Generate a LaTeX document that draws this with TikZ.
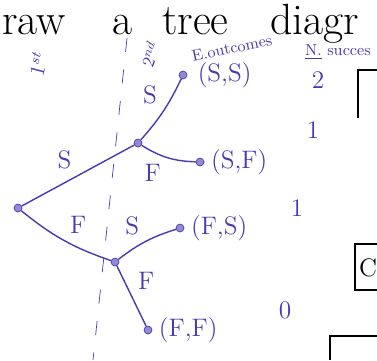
\documentclass[tikz,border=0pt]{standalone}
\usepackage{tikz}
\usetikzlibrary{quotes}
\definecolor{ink}{RGB}{72,58,178}
\begin{document}
\begin{tikzpicture}[
    x=0.02cm, y=-0.02cm,
    V/.style = {circle, draw=ink, fill=ink!60, inner sep = 1.6pt},
    L/.style = {text=ink, font=\Large},
    H/.style = {anchor=base west, font=\Huge, inner sep=1pt},
    every edge quotes/.style = {auto, text=ink, font=\Large}
    ]
    \useasboundingbox (0,0) rectangle (377,360);
    % heading
    \node[H] (raw) at (0,34) {raw};
    \node[H] (a) at (110,34) {a};
    \node[H] (tree) at (160,34) {tree};
    \node[H] (diagr) at (268,34) {diagr};
    \node[rotate=75, text=ink, font=\large, inner sep=1pt] (first) at (38,64) {1$^{st}$};
    \node[rotate=70, text=ink, inner sep=1pt] (second) at (150,54) {2$^{nd}$};
    \node[rotate=12, text=ink, font=\small, inner sep=1pt] (outc) at (232,48) {E.outcomes};
    \node[text=ink, font=\small, inner sep=1pt] (succ) at (338,52) {\underline{N.} succes};
    % dashed divider
    \draw[ink, dashed, dash pattern=on 8pt off 10pt] (127,38) -- (93,360);
    \begin{scope}[nodes=V]
        \node (root) at (18,208) {};
        \node (s) at (138,143) {};
        \node (f) at (115,262) {};
        \node[label={[L, label distance=2pt]right:{(S,S)}}] (ss) at (183,75) {};
        \node[label={[L]right:{(S,F)}}] (sf) at (200,162) {};
        \node[label={[L]right:{(F,S)}}] (fs) at (180,228) {};
        \node[label={[L]right:{(F,F)}}] (ff) at (148,330) {};
    \end{scope}
    \begin{scope}[thick, ink]
        \draw (root) edge["S"] (s);
        \draw (root) edge["F", bend right=10] (f);
        \draw (s) edge["S", bend right=8] (ss);
        \draw (s) edge["F"', bend right=15] (sf);
        \draw (f) edge["S", bend left=10] (fs);
        \draw (f) edge["F"] (ff);
    \end{scope}
    % number of successes
    \node[L] (n1) at (318,80) {2};
    \node[L] (n2) at (313,130) {1};
    \node[L] (n3) at (297,208) {1};
    \node[L] (n4) at (285,310) {0};
    % boxes at the right edge
    \draw[thick] (377,70) -- (358,70) -- (358,118);
    \draw[thick] (377,244) -- (355,244) -- (355,290) -- (377,290);
    \node[font=\Large] (c) at (368,268) {C};
    \draw[thick] (377,336) -- (330,336) -- (330,360);
\end{tikzpicture}
\end{document}
